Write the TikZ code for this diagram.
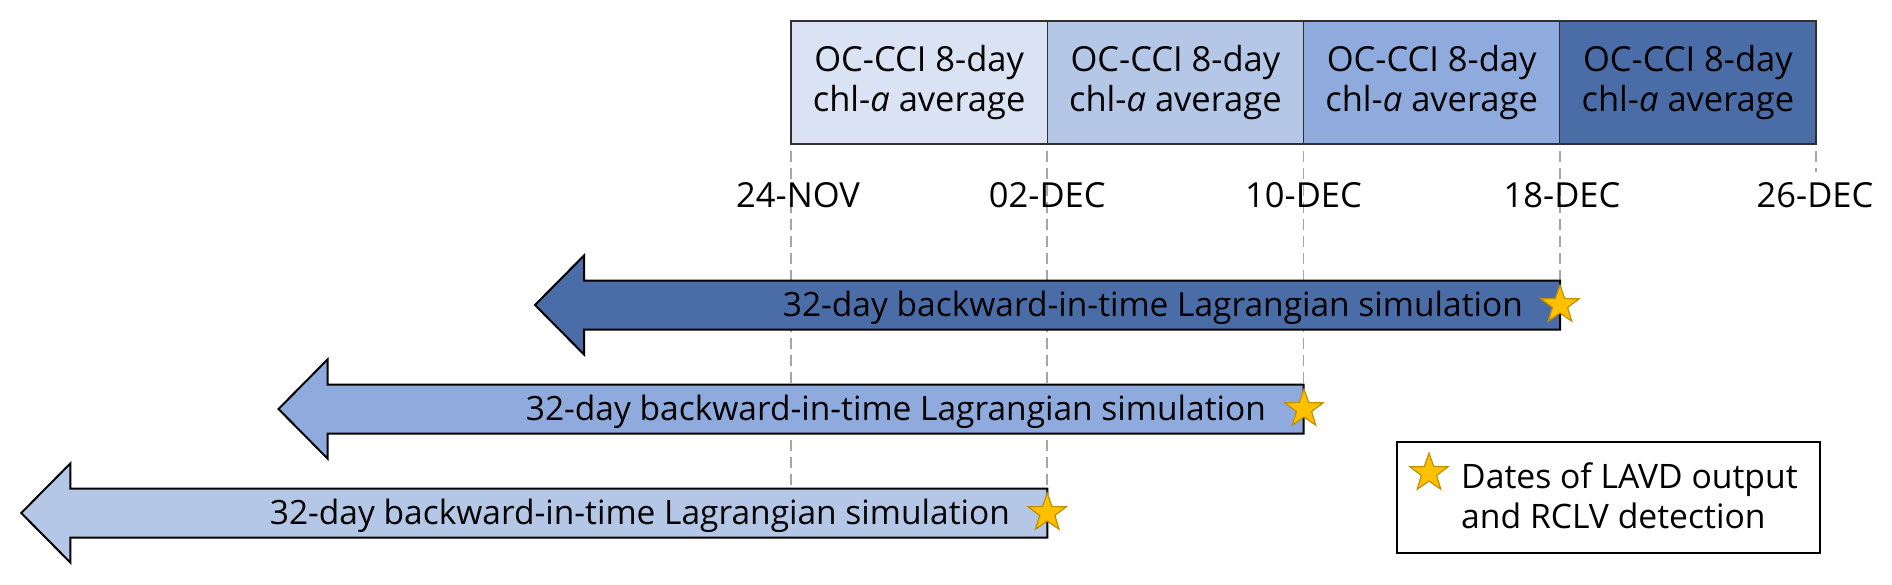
\documentclass[tikz,border=0pt]{standalone}
\usepackage{fontspec}
\setmainfont{Open Sans}
\usetikzlibrary{shapes.geometric}
\definecolor{cA}{HTML}{DAE3F3}
\definecolor{cB}{HTML}{B4C7E7}
\definecolor{cC}{HTML}{8FAADC}
\definecolor{cD}{HTML}{4A6DA7}
\definecolor{starfill}{HTML}{FFC000}
\definecolor{staredge}{HTML}{BF9000}
\definecolor{tickgray}{HTML}{A6A6A6}
\definecolor{boxedge}{HTML}{303030}
\begin{document}
\begin{tikzpicture}[x=1pt,y=-1pt,
  txt/.style={font=\fontsize{33}{40}\selectfont, inner sep=0pt},
  bigtxt/.style={font=\fontsize{34.5}{40}\selectfont, inner sep=0pt},
  periodbox/.style={bigtxt, draw=boxedge, line width=1.4pt, minimum width=256.25pt, minimum height=123pt, align=center},
  datelabel/.style={bigtxt, anchor=base},
  tickline/.style={draw=tickgray, line width=1.8pt, dash pattern=on 11pt off 6pt},
  simarrow/.style={draw=black, line width=2pt, line join=miter},
  simtext/.style={font=\fontsize{33.5}{40}\selectfont, inner sep=0pt, anchor=base east},
  starmark/.style={star, star points=5, star point ratio=2.5, minimum size=40pt, inner sep=0pt, fill=starfill, draw=staredge, line width=1.2pt},
  legendbox/.style={draw=black, line width=2.4pt, minimum width=423pt, minimum height=111pt, inner sep=0pt},
  legendtext/.style={font=\fontsize{33.7}{40}\selectfont, inner sep=0pt, anchor=base west, align=left},
]
\useasboundingbox (0,0) rectangle (1892,584);

% period boxes
\node[periodbox, fill=cA] (p1) at (919.125,82.5) {OC-CCI 8-day\\chl-\textit{a} average};
\node[periodbox, fill=cB] (p2) at (1175.375,82.5) {OC-CCI 8-day\\chl-\textit{a} average};
\node[periodbox, fill=cC] (p3) at (1431.625,82.5) {OC-CCI 8-day\\chl-\textit{a} average};
\node[periodbox, fill=cD] (p4) at (1687.875,82.5) {OC-CCI 8-day\\chl-\textit{a} average};

% tick coordinates
\coordinate (t0) at (791,151);
\coordinate (t1) at (1047.25,151);
\coordinate (t2) at (1303.5,151);
\coordinate (t3) at (1559.75,151);
\coordinate (t4) at (1816,151);
\coordinate (e0) at (791,488.5);
\coordinate (e1) at (1047.25,488.5);
\coordinate (e2) at (1303.5,384.5);
\coordinate (e3) at (1559.75,280.5);
\coordinate (e4) at (1816,172);

\draw[tickline] (t0) -- (e0);
\draw[tickline] (t1) -- (e1);
\draw[tickline] (t2) -- (e2);
\draw[tickline] (t3) -- (e3);
\draw[tickline] (t4) -- (e4);

% date labels
\node[datelabel] (d0) at (798,207) {24-NOV};
\node[datelabel] (d1) at (1047.25,207) {02-DEC};
\node[datelabel] (d2) at (1303.5,207) {10-DEC};
\node[datelabel] (d3) at (1562,207) {18-DEC};
\node[datelabel] (d4) at (1815,207) {26-DEC};

% simulation arrows
\draw[simarrow, fill=cD] (1560,280.5) -- (584,280.5) -- (584,255.5) -- (535,305) -- (584,354.5) -- (584,329.5) -- (1560,329.5) -- cycle;
\draw[simarrow, fill=cC] (1303.5,384.5) -- (327.5,384.5) -- (327.5,359.5) -- (278.5,409) -- (327.5,458.5) -- (327.5,433.5) -- (1303.5,433.5) -- cycle;
\draw[simarrow, fill=cB] (1047.25,488.5) -- (70.25,488.5) -- (70.25,463.5) -- (21.25,513) -- (70.25,562.5) -- (70.25,537.5) -- (1047.25,537.5) -- cycle;

\node[simtext] (a1) at (1523,316) {32-day backward-in-time Lagrangian simulation};
\node[simtext] (a2) at (1266,420) {32-day backward-in-time Lagrangian simulation};
\node[simtext] (a3) at (1010,524) {32-day backward-in-time Lagrangian simulation};

\node[starmark] (s1) at (1560,305) {};
\node[starmark] (s2) at (1304,409) {};
\node[starmark] (s3) at (1047.25,513) {};

% legend
\node[legendbox] (leg) at (1608.5,497.5) {};
\node[starmark] (ls) at (1429,473) {};
\node[legendtext] (lt) at (1461,528) {Dates of LAVD output\\and RCLV detection};
\end{tikzpicture}
\end{document}
